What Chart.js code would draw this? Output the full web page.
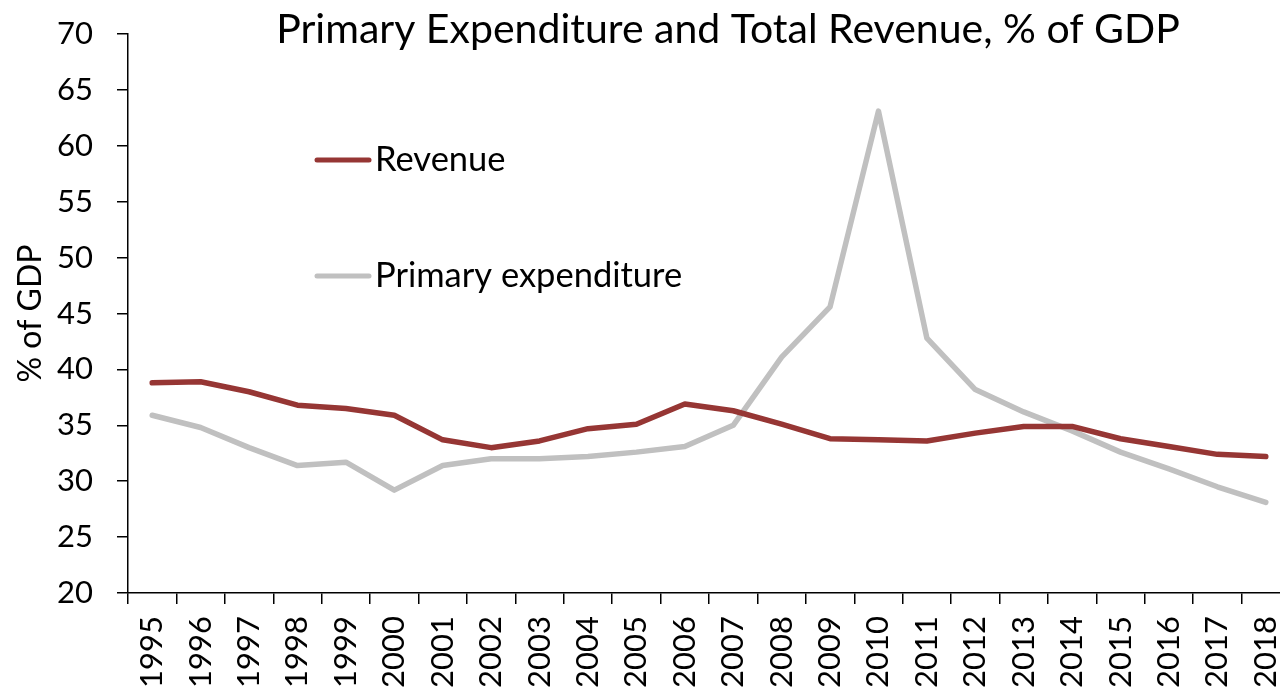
<!DOCTYPE html>
<html>
<head>
<meta charset="utf-8">
<script src="https://cdn.jsdelivr.net/npm/chart.js@4.4.0/dist/chart.umd.min.js"></script>
<style>
html, body { margin: 0; padding: 0; background: #fff; overflow: hidden; }
#wrap { width: 1290px; height: 692px; position: relative; }
</style>
</head>
<body>
<div id="wrap"><canvas id="chart"></canvas></div>
<script>
var years = ["1995", "1996", "1997", "1998", "1999", "2000", "2001", "2002", "2003", "2004", "2005", "2006",
	"2007", "2008", "2009", "2010", "2011", "2012", "2013", "2014", "2015", "2016", "2017", "2018"];
var revenue = [38.8, 38.9, 38.0, 36.8, 36.5, 35.9, 33.7, 33.0, 33.6, 34.7, 35.1, 36.9,
	36.3, 35.1, 33.8, 33.7, 33.6, 34.3, 34.9, 34.9, 33.8, 33.1, 32.4, 32.2];
var expenditure = [35.9, 34.8, 33.0, 31.4, 31.7, 29.2, 31.4, 32.0, 32.0, 32.2, 32.6, 33.1,
	35.0, 41.1, 45.6, 63.1, 42.8, 38.2, 36.2, 34.5, 32.6, 31.1, 29.5, 28.1];
var seriesNames = ["Revenue", "Primary expenditure"];
var yMin = 20, yMax = 70, yStep = 5;
var titleText = "Primary Expenditure and Total Revenue, % of GDP";

var textFont = "Lato";

// title and the legend that sits inside the plot
var overlay = {
	id: 'overlay',
	afterDraw: function(chart){
		var ctx = chart.ctx;
		ctx.save();
		ctx.fillStyle = "#000";
		ctx.textBaseline = "alphabetic";
		ctx.textAlign = "center";
		ctx.font = "41px " + textFont;
		ctx.fillText(titleText, 728, 43);

		ctx.textAlign = "left";
		ctx.textBaseline = "middle";
		ctx.font = "34.5px " + textFont;
		var rows = [160, 276];
		for (var i = 0; i < chart.data.datasets.length; i++){
			var ds = chart.data.datasets[i];
			ctx.strokeStyle = ds.borderColor;
			ctx.lineWidth = 5;
			ctx.lineCap = "round";
			ctx.beginPath();
			ctx.moveTo(317, rows[i]);
			ctx.lineTo(369, rows[i]);
			ctx.stroke();
			ctx.fillText(ds.label, 375, rows[i]);
		}
		ctx.restore();
	}
};

var chart = new Chart(document.getElementById("chart").getContext('2d'), {
	type: 'line',
	data: {
		labels: years,
		datasets: [{
			label: seriesNames[0],
			data: revenue,
			borderColor: "#963634",
			borderWidth: 5.5,
			pointRadius: 0,
			tension: 0,
			borderCapStyle: 'round',
			borderJoinStyle: 'round'
		}, {
			label: seriesNames[1],
			data: expenditure,
			borderColor: "#C0C0C0",
			borderWidth: 5.5,
			pointRadius: 0,
			tension: 0,
			borderCapStyle: 'round',
			borderJoinStyle: 'round'
		}]
	},
	options: {
		responsive: true,
		maintainAspectRatio: false,
		animation: false,
		layout: { padding: { top: 34, left: 0, right: 0, bottom: 0 } },
		plugins: {
			legend: { display: false },
			title: { display: false },
			tooltip: { enabled: false }
		},
		scales: {
			x: {
				type: 'category',
				offset: true,
				grid: { offset: true, drawOnChartArea: false, tickLength: 11, color: "#000", lineWidth: 1.5 },
				border: { color: "#000", width: 1.5 },
				ticks: {
					color: "#000",
					font: { family: textFont, size: 31 },
					minRotation: 90,
					maxRotation: 90,
					autoSkip: false,
					padding: 12
				},
				afterFit: function(s){
					s.height = 99;
					s.paddingLeft = 0;
					s.paddingRight = 0;
				}
			},
			y: {
				min: yMin,
				max: yMax,
				grid: { drawOnChartArea: false, tickLength: 11, color: "#000", lineWidth: 1.5 },
				border: { color: "#000", width: 1.5 },
				ticks: {
					stepSize: yStep,
					color: "#000",
					font: { family: textFont, size: 31 },
					padding: 24
				},
				title: {
					display: true,
					text: "% of GDP",
					color: "#000",
					font: { family: textFont, size: 32 },
					padding: { top: 11, bottom: 0 }
				},
				afterFit: function(s){
					s.width = 128;
					s.paddingTop = 0;
					s.paddingBottom = 0;
				}
			}
		}
	},
	plugins: [overlay]
});
</script>
</body>
</html>
